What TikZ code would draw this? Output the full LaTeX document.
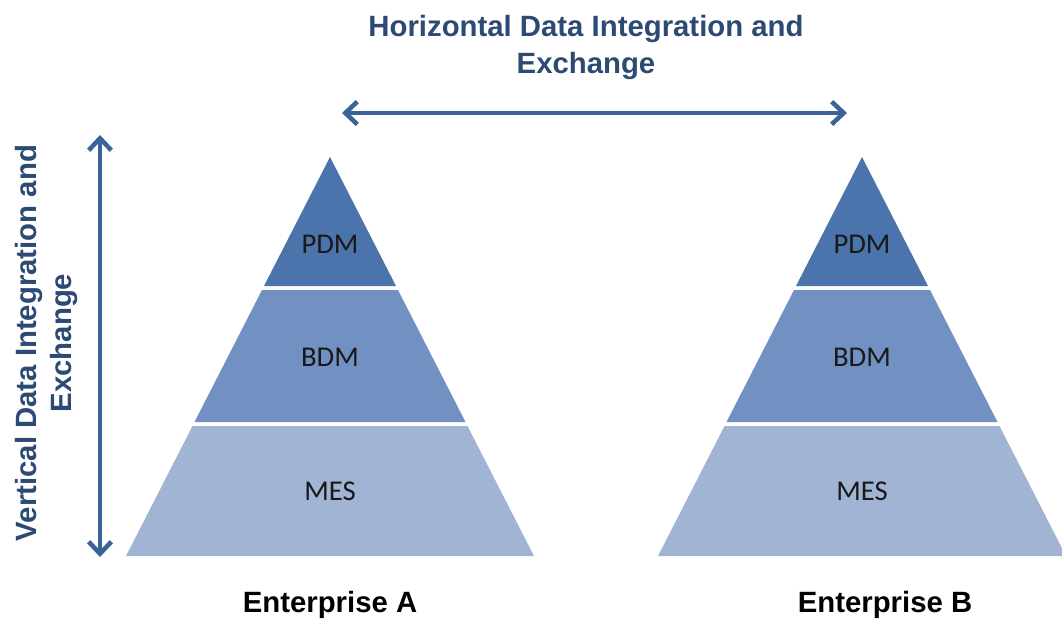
\documentclass[tikz,border=0pt]{standalone}
\usepackage{fontspec}
\setmainfont{Liberation Sans}
\newfontfamily\layerfont{Carlito}
\usetikzlibrary{arrows.meta,positioning}
\definecolor{pdmblue}{HTML}{4A74AB}
\definecolor{bdmblue}{HTML}{7191C2}
\definecolor{mesblue}{HTML}{A1B4D4}
\definecolor{arrowblue}{HTML}{3A6497}
\definecolor{titleblue}{HTML}{2C4A73}
\tikzset{
  htitle/.style={font=\fontsize{22}{27}\selectfont\bfseries, text=titleblue,
                 inner sep=0pt, anchor=base},
  layerlabel/.style={font=\layerfont\fontsize{21.5}{26}\selectfont,
                 text=black!90, inner sep=0pt, anchor=base},
  entlabel/.style={font=\fontsize{22}{27}\selectfont\bfseries,
                 inner sep=0pt, anchor=base},
  flow/.style={draw=arrowblue, line width=3pt,
               {Straight Barb[length=9pt,width=17pt,line width=3.4pt]}-{Straight Barb[length=9pt,width=17pt,line width=3.4pt]}}
}
\begin{document}
\begin{tikzpicture}[x=0.75pt,y=-0.75pt]
 \useasboundingbox (0,0) rectangle (1062,619);
 \clip (0,0) rectangle (1062,619);

 % The two enterprise pyramids
 \foreach \cx/\e/\lx in {330/A/330, 862/B/885}{
   \fill[pdmblue] (\cx,157) -- (\cx+66,286) -- (\cx-66,286) -- cycle;
   \fill[bdmblue] (\cx-68,290) -- (\cx+68,290) -- (\cx+135.5,422) -- (\cx-135.5,422) -- cycle;
   \fill[mesblue] (\cx-137.5,426) -- (\cx+137.5,426) -- (\cx+204,556) -- (\cx-204,556) -- cycle;
   \node[layerlabel] (pdm\e) at (\cx,253) {PDM};
   \node[layerlabel] (bdm\e) at (\cx,366) {BDM};
   \node[layerlabel] (mes\e) at (\cx,500) {MES};
   \node[entlabel]   (ent\e) at (\lx,612) {Enterprise \e};
 }

 % Titles
 \node[htitle] (hline1) at (586,36) {Horizontal Data Integration and};
 \node[htitle] (hline2) at (586,73) {Exchange};
 \node[htitle, rotate=90] (vline1) at (36,343) {Vertical Data Integration and};
 \node[htitle, rotate=90] (vline2) at (71,343) {Exchange};

 % Arrows
 \coordinate (hleft)  at (342,113);
 \coordinate (hright) at (847,113);
 \coordinate (vtop)   at (100,135);
 \coordinate (vbot)   at (100,557);
 \draw[flow] (hleft) -- (hright);
 \draw[flow] (vtop) -- (vbot);
\end{tikzpicture}
\end{document}
